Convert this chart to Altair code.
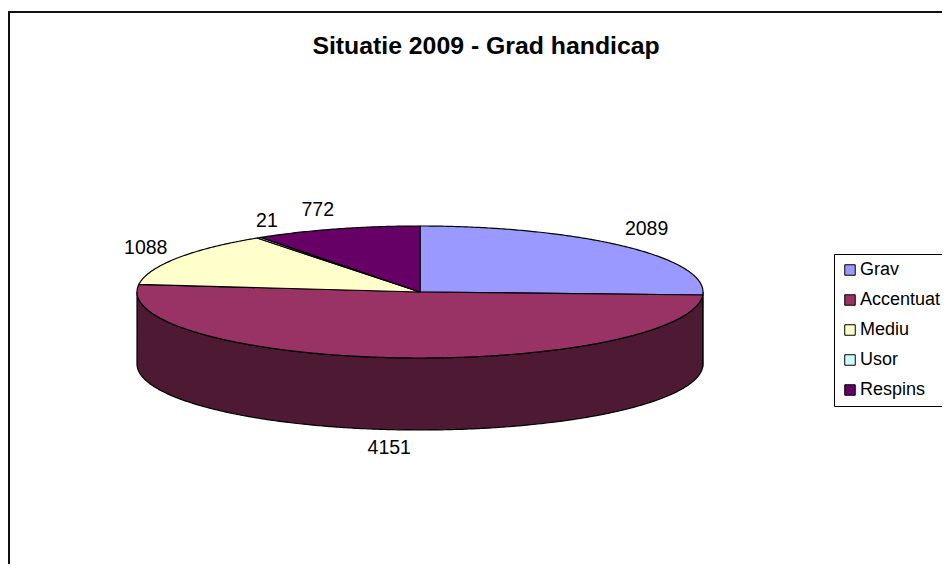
import math
import altair as alt
import numpy as np

categories = ["Grav", "Accentuat", "Mediu", "Usor", "Respins"]
values = [2089, 4151, 1088, 21, 772]
top_colors = ["#9999FF", "#993366", "#FFFFCC", "#CCFFFF", "#660066"]
side_colors = ["#4D4D80", "#4D1933", "#808066", "#668080", "#330033"]
title_text = "Situatie 2009 - Grad handicap"

# pie geometry, in chart pixels
W, H = 934, 556
CX, CY, RX, RY, DEPTH = 412, 284, 283, 66, 72
# nudges of each value label away from the rim of its slice
label_nudge = {"Grav": (22, -17), "Accentuat": (-8, 18), "Mediu": (-31, -10), "Usor": (8, -17), "Respins": (-19, -19)}


def rim(theta, drop=0):
    a = np.radians(theta)
    return np.column_stack([CX + RX * np.sin(a), CY - RY * np.cos(a) + drop])


def feature(name, ring, color):
    ring = [[float(x), float(y)] for x, y in ring]
    ring.append(ring[0])
    return {
        "type": "Feature",
        "properties": {"name": name, "color": color},
        "geometry": {"type": "Polygon", "coordinates": [ring]},
    }


total = sum(values)
edges = np.concatenate([[0], np.cumsum(values)]) * 360.0 / total
tops, sides, labels = [], [], []
for i, name in enumerate(categories):
    a0, a1 = edges[i], edges[i + 1]
    arc = np.linspace(a0, a1, max(3, int((a1 - a0) * 2)))
    tops.append(feature(name, np.vstack([[[CX, CY]], rim(arc)]), top_colors[i]))
    s0, s1 = max(a0, 90), min(a1, 270)
    if s1 > s0:
        sarc = np.linspace(s0, s1, max(3, int((s1 - s0) * 2)))
        sides.append(feature(name, np.vstack([rim(sarc), rim(sarc[::-1], DEPTH)]), side_colors[i]))
    mid = (a0 + a1) / 2
    p = rim(np.array([mid]), DEPTH if 90 < mid < 270 else 0)[0]
    dx, dy = label_nudge[name]
    labels.append({"name": name, "value": values[i], "px": float(p[0] + dx), "py": float(p[1] + dy)})

proj = alt.Projection(type="identity", reflectY=False, scale=1, translate=[0, 0])

side_layer = (
    alt.Chart(alt.Data(values=sides))
    .mark_geoshape(stroke="black", strokeWidth=1.2)
    .encode(fill=alt.Fill("properties.color:N", scale=None, legend=None))
    .project(**proj.to_dict())
)
top_layer = (
    alt.Chart(alt.Data(values=tops))
    .mark_geoshape(stroke="black", strokeWidth=1.2)
    .encode(
        fill=alt.Fill(
            "properties.name:N",
            scale=alt.Scale(domain=categories, range=top_colors),
            sort=categories,
            legend=alt.Legend(
                title=None,
                orient="none",
                legendX=826,
                legendY=246,
                symbolType="square",
                symbolSize=110,
                symbolStrokeColor="black",
                symbolStrokeWidth=1,
                labelFont="Liberation Sans",
                labelFontSize=18,
                labelColor="black",
                labelOffset=1,
                rowPadding=12,
                padding=7,
                strokeColor="black",
                fillColor="white",
                labelLimit=200,
            ),
        )
    )
    .project(**proj.to_dict())
)
xs = alt.Scale(domain=[0, W], range=[0, W])
ys = alt.Scale(domain=[0, H], range=[0, H])
label_layer = (
    alt.Chart(alt.Data(values=labels))
    .mark_text(font="Liberation Sans", fontSize=19.5, color="black", baseline="middle", align="center")
    .encode(x=alt.X("px:Q", scale=xs, axis=None), y=alt.Y("py:Q", scale=ys, axis=None), text="value:N")
)
frame_top = alt.Chart(alt.Data(values=[{"a": 0}])).mark_rule(color="#111111", strokeWidth=2).encode(
    x=alt.value(0), x2=alt.value(W), y=alt.value(4)
)
frame_left = alt.Chart(alt.Data(values=[{"a": 0}])).mark_rule(color="#111111", strokeWidth=2).encode(
    x=alt.value(1), y=alt.value(3), y2=alt.value(H)
)

chart = (
    alt.layer(side_layer, top_layer, label_layer, frame_top, frame_left)
    .resolve_scale(x="independent", y="independent", fill="independent")
    .properties(
        width=W,
        height=H,
        padding=0,
        autosize=alt.AutoSizeParams(type="none"),
        title=alt.TitleParams(
            title_text,
            font="Liberation Sans",
            fontSize=24.8,
            fontWeight="bold",
            color="black",
            anchor="middle",
            dx=11,
            dy=55,
        ),
    )
    .configure_view(stroke=None)
)

chart.save("out.html", embed_options={"renderer": "svg", "actions": False})
